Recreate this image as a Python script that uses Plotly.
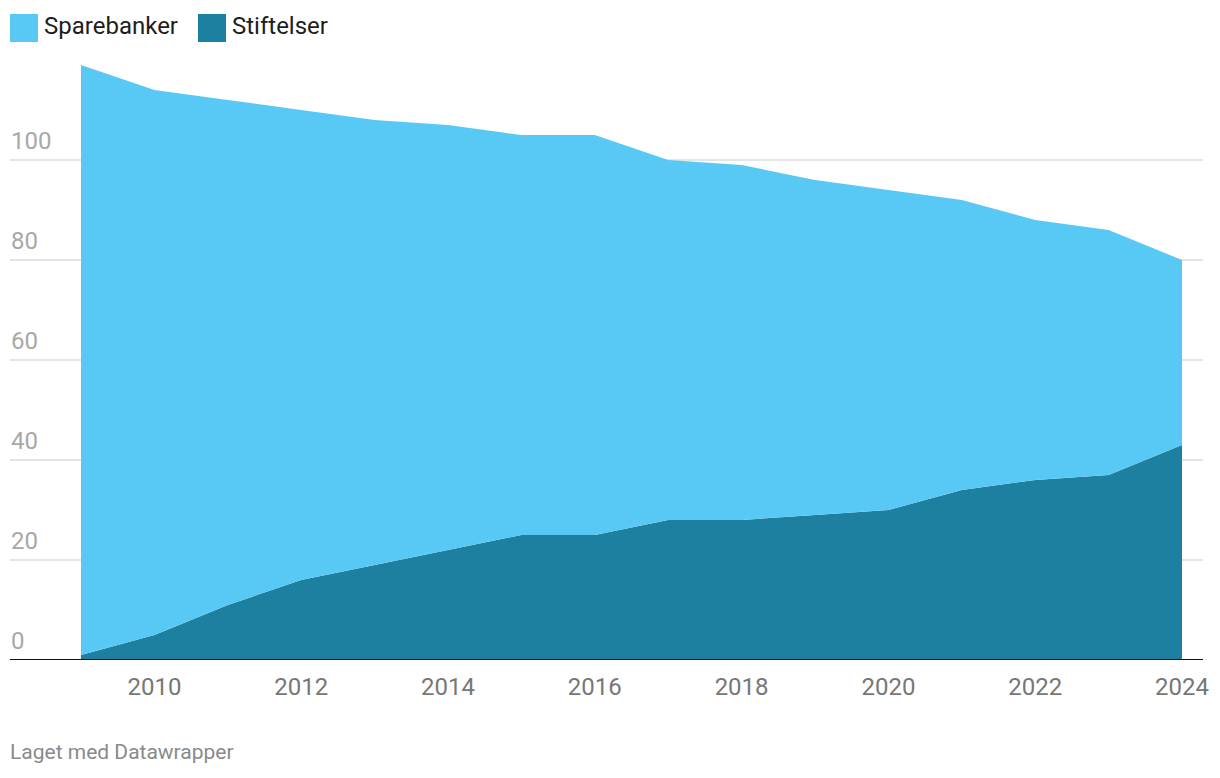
import plotly.graph_objects as go

years = list(range(2009, 2025))
stiftelser = [1, 5, 11, 16, 19, 22, 25, 25, 28, 28, 29, 30, 34, 36, 37, 43]
sparebanker = [118, 109, 101, 94, 89, 85, 80, 80, 72, 71, 67, 64, 58, 52, 49, 37]
x_ticks = [2010, 2012, 2014, 2016, 2018, 2020, 2022, 2024]
y_ticks = [0, 20, 40, 60, 80, 100]

c_light = "#58C8F5"
c_dark = "#1E80A0"
FONT = "Roboto"

W, H = 1220, 778
ml, mr, mt, mb = 10, 17, 60, 118
pw, ph = W - ml - mr, H - mt - mb

def px(x):
    return (x - ml) / pw

def py(y):
    return (H - mb - y) / ph

fig = go.Figure()
fig.add_trace(go.Scatter(x=years, y=stiftelser, name="Stiftelser", stackgroup="s",
                         mode="none", fillcolor=c_dark, line=dict(width=0),
                         hoverinfo="skip"))
fig.add_trace(go.Scatter(x=years, y=sparebanker, name="Sparebanker", stackgroup="s",
                         mode="none", fillcolor=c_light, line=dict(width=0),
                         hoverinfo="skip"))

annotations = []
for v in y_ticks:
    annotations.append(dict(x=0, xref="paper", y=v, yref="y", text=str(v),
                            showarrow=False, xanchor="left", yanchor="bottom",
                            yshift=3, xshift=-1,
                            font=dict(family=FONT, size=24, color="#a8a8a8")))

# legend
shapes = []
legend_items = [("Sparebanker", c_light, 10, 44), ("Stiftelser", c_dark, 198, 232)]
for name, col, sx, tx in legend_items:
    shapes.append(dict(type="rect", xref="paper", yref="paper",
                       x0=px(sx), x1=px(sx + 28), y0=py(42), y1=py(14),
                       fillcolor=col, line=dict(width=0)))
    annotations.append(dict(x=px(tx), xref="paper", y=py(26), yref="paper",
                            text=name, showarrow=False, xanchor="left",
                            yanchor="middle", xshift=-2,
                            font=dict(family=FONT, size=24, color="#1d1d1d")))

annotations.append(dict(x=px(10), xref="paper", y=py(752), yref="paper",
                        text="Laget med Datawrapper", showarrow=False,
                        xanchor="left", yanchor="middle", xshift=-2,
                        font=dict(family=FONT, size=21, color="#8a8a8a")))

shapes.append(dict(type="line", xref="paper", yref="y", x0=0, x1=1, y0=0, y1=0,
                   line=dict(color="#111111", width=2), layer="above"))

fig.update_layout(
    width=W, height=H,
    margin=dict(l=ml, r=mr, t=mt, b=mb, pad=0),
    paper_bgcolor="white", plot_bgcolor="white",
    showlegend=False,
    font=dict(family=FONT),
    xaxis=dict(range=[2009 - 71 / 73.4, 2024 + 21 / 73.4], tickvals=x_ticks,
               ticktext=[str(t) for t in x_ticks], showgrid=False, zeroline=False,
               showline=False, ticks="", ticklabelstandoff=10,
               tickfont=dict(family=FONT, size=24, color="#777777"), fixedrange=True),
    yaxis=dict(range=[0, 120], tickvals=y_ticks, showticklabels=False,
               showgrid=True, gridcolor="#e5e5e5", gridwidth=1.5, zeroline=False,
               showline=False, ticks="", fixedrange=True),
    annotations=annotations,
    shapes=shapes,
)

fig.write_html("out.html")
